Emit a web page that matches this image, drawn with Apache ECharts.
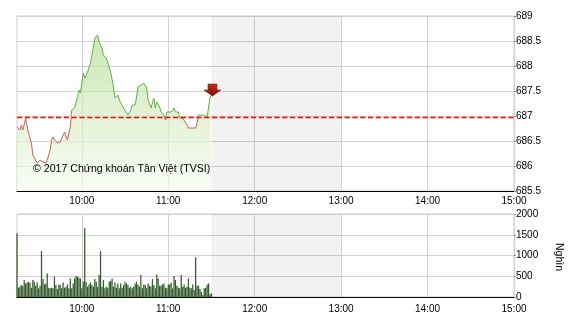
<!DOCTYPE html>
<html><head><meta charset="utf-8">
<script src="https://cdn.jsdelivr.net/npm/echarts@6/dist/echarts.min.js"></script>
<style>html,body{margin:0;padding:0;background:#fff}#c{width:570px;height:320px}</style>
</head><body><div id="c"></div>
<script>
// Hour tick labels shown on the time axis
const hourTicks = ['10:00','11:00','12:00','13:00','14:00','15:00'];
// Session: 9:15 .. 15:00 one category per minute
const categories = [];
for (let t = 9*60+15; t <= 15*60; t++) {
  categories.push(Math.floor(t/60) + ':' + String(t%60).padStart(2,'0'));
}
const refPrice = 686.97;
const breakStart = '11:30', breakEnd = '13:00';
// Price readings: minute index since 9:15 and index value
const priceMinute = [0,2,3,4,6,8,10,11,14,15,16,18,20,21,23,24,25,26,28,30,33,35,36,37,38,40,42,43,44,46,47,48,49,51,52,53,54,56,57,58,59,60,62,63,65,67,68,70,71,72,74,75,77,79,80,81,82,83,84,86,87,88,90,91,93,94,95,96,97,99,100,102,103,104,105,107,109,110,112,113,115,118,119,120,122,124,125,126,127,129,130,132,133,134,135];
const priceValue  = [686.78,686.72,686.82,686.72,686.95,686.66,686.46,686.22,686.06,686.02,686.12,686.08,686.06,686.12,686.32,686.52,686.58,686.52,686.46,686.48,686.68,686.52,686.52,686.78,687.12,687.16,687.38,687.52,687.46,687.86,687.76,687.72,687.88,688.06,688.22,688.38,688.56,688.62,688.48,688.42,688.36,688.22,688.16,688.12,687.88,687.58,687.36,687.42,687.32,687.32,687.16,687.12,687.02,687.12,687.22,687.26,687.22,687.38,687.58,687.62,687.58,687.66,687.56,687.32,687.16,687.18,687.36,687.16,687.28,687.18,687.08,687.02,686.92,687.08,687.12,687.08,687.16,687.08,687.08,686.96,686.96,686.82,686.76,686.78,686.76,686.76,686.86,687.02,687.06,687.02,686.98,686.98,687.18,687.38,687.42];
// Volume per minute (thousand shares), 9:15 .. 11:30
const volume = [1536,224,248,288,264,408,328,352,368,344,224,408,368,272,352,208,272,1104,432,304,328,568,224,208,224,208,488,288,192,288,304,208,352,224,240,304,208,448,208,328,448,504,488,464,448,208,368,1664,368,248,304,352,288,248,432,368,248,528,1104,248,408,208,248,224,368,384,448,248,352,224,328,208,328,224,288,368,328,288,224,248,208,248,328,368,288,248,528,208,304,288,208,328,272,248,432,288,208,544,448,272,272,304,328,224,208,304,304,352,208,504,408,272,224,208,528,248,304,224,248,448,224,208,304,168,960,272,272,192,128,48,208,224,304,328,64,88];
const priceTicks = {min:685.5, max:689, interval:0.5};
const volTicks = {min:0, max:2000, interval:500};

const isHour = (i) => hourTicks.indexOf(categories[i]) >= 0;
const font = 'Liberation Sans, Arial, sans-serif';
function xAxisCfg(gridIndex, margin){
  return {
    type:'category', gridIndex, data:categories, boundaryGap:false,
    axisLine:{lineStyle:{color:'#000', width:1}},
    axisTick:{show:false},
    axisLabel:{interval:(i)=>isHour(i), color:'#000', fontSize:10, fontFamily:font, margin},
    splitLine:{show:true, interval:(i)=>isHour(i), lineStyle:{color:'#d2d2d2', width:1}}
  };
}
function yAxisCfg(gridIndex, t){
  return {
    type:'value', gridIndex, position:'right', min:t.min, max:t.max, interval:t.interval,
    axisLine:{show:false}, axisTick:{show:true, length:2, lineStyle:{color:'#888'}},
    axisLabel:{color:'#000', fontSize:10, fontFamily:font, margin:2, formatter:(v)=>String(v)},
    splitLine:{show:true, lineStyle:{color:'#d2d2d2', width:1}}
  };
}
const bandArea = {silent:true, itemStyle:{color:'rgba(0,0,0,0.05)'},
  data:[[{xAxis:categories.indexOf(breakStart)},{xAxis:categories.indexOf(breakEnd)}]]};
const chart = echarts.init(document.getElementById('c'), null, {renderer:'canvas'});
chart.setOption({
  animation:false,
  backgroundColor:'#fff',
  grid:[
    {left:17, right:56, top:16, height:175, show:true, borderColor:'#cccccc', borderWidth:1},
    {left:17, right:56, top:214, height:83, show:true, borderColor:'#cccccc', borderWidth:1}
  ],
  xAxis:[xAxisCfg(0,5), xAxisCfg(1,7)],
  yAxis:[yAxisCfg(0, priceTicks), yAxisCfg(1, volTicks)],
  visualMap:[{show:false, type:'piecewise', seriesIndex:[0], dimension:1,
    pieces:[{min:priceTicks.min-1, max:refPrice, color:'#d35b5b'},{min:refPrice, max:priceTicks.max+1, color:'#62ad4f'}],
    outOfRange:{color:'#62ad4f'}}],
  series:[
    {
      type:'line', xAxisIndex:0, yAxisIndex:0, symbol:'none', smooth:false,
      data: priceMinute.map((m,i)=>[m, priceValue[i]]),
      lineStyle:{width:1},
      areaStyle:{origin:'start', color:new echarts.graphic.LinearGradient(0,0,0,1,[
        {offset:0, color:'#b6de94'},{offset:1, color:'#f7fbf3'}])},
      markArea:bandArea
    },
    {
      type:'line', xAxisIndex:0, yAxisIndex:0, silent:true, z:4, symbol:'none',
      color:'#ff0000',
      data:[[0, refPrice],[categories.length-1, refPrice]],
      lineStyle:{color:'#ff0000', type:'dashed', dashOffset:0, width:1.3, opacity:1}
    },
    {
      type:'scatter', xAxisIndex:0, yAxisIndex:0, silent:true,
      data:[[priceMinute[priceMinute.length-1], priceValue[priceValue.length-1]]],
      symbol:'path://M4,0 L13,0 L13,6 L17,6 L8.5,12 L0,6 L4,6 Z',
      symbolSize:[17,12], symbolOffset:[1,-5], z:5,
      itemStyle:{color:new echarts.graphic.LinearGradient(0,0,0,1,[
        {offset:0,color:'#c0301a'},{offset:1,color:'#7a0c05'}]), borderColor:'#800c05', borderWidth:0.5, opacity:1}
    },
    {
      type:'bar', xAxisIndex:1, yAxisIndex:1, data:volume, barWidth:1.25,
      itemStyle:{color:'#335a2b'}
    },
    {
      type:'line', xAxisIndex:1, yAxisIndex:1, data:[], silent:true,
      markArea:bandArea
    }
  ],
  graphic:[
    {type:'text', left:33, top:164, z:100, style:{text:'© 2017 Chứng khoán Tân Việt (TVSI)', font:'10.6px '+font, fill:'#000'}},
    {type:'text', x:564, y:243, rotation:-Math.PI/2, z:100, style:{text:'Nghìn', font:'10.5px '+font, fill:'#000'}}
  ]
});
</script></body></html>
